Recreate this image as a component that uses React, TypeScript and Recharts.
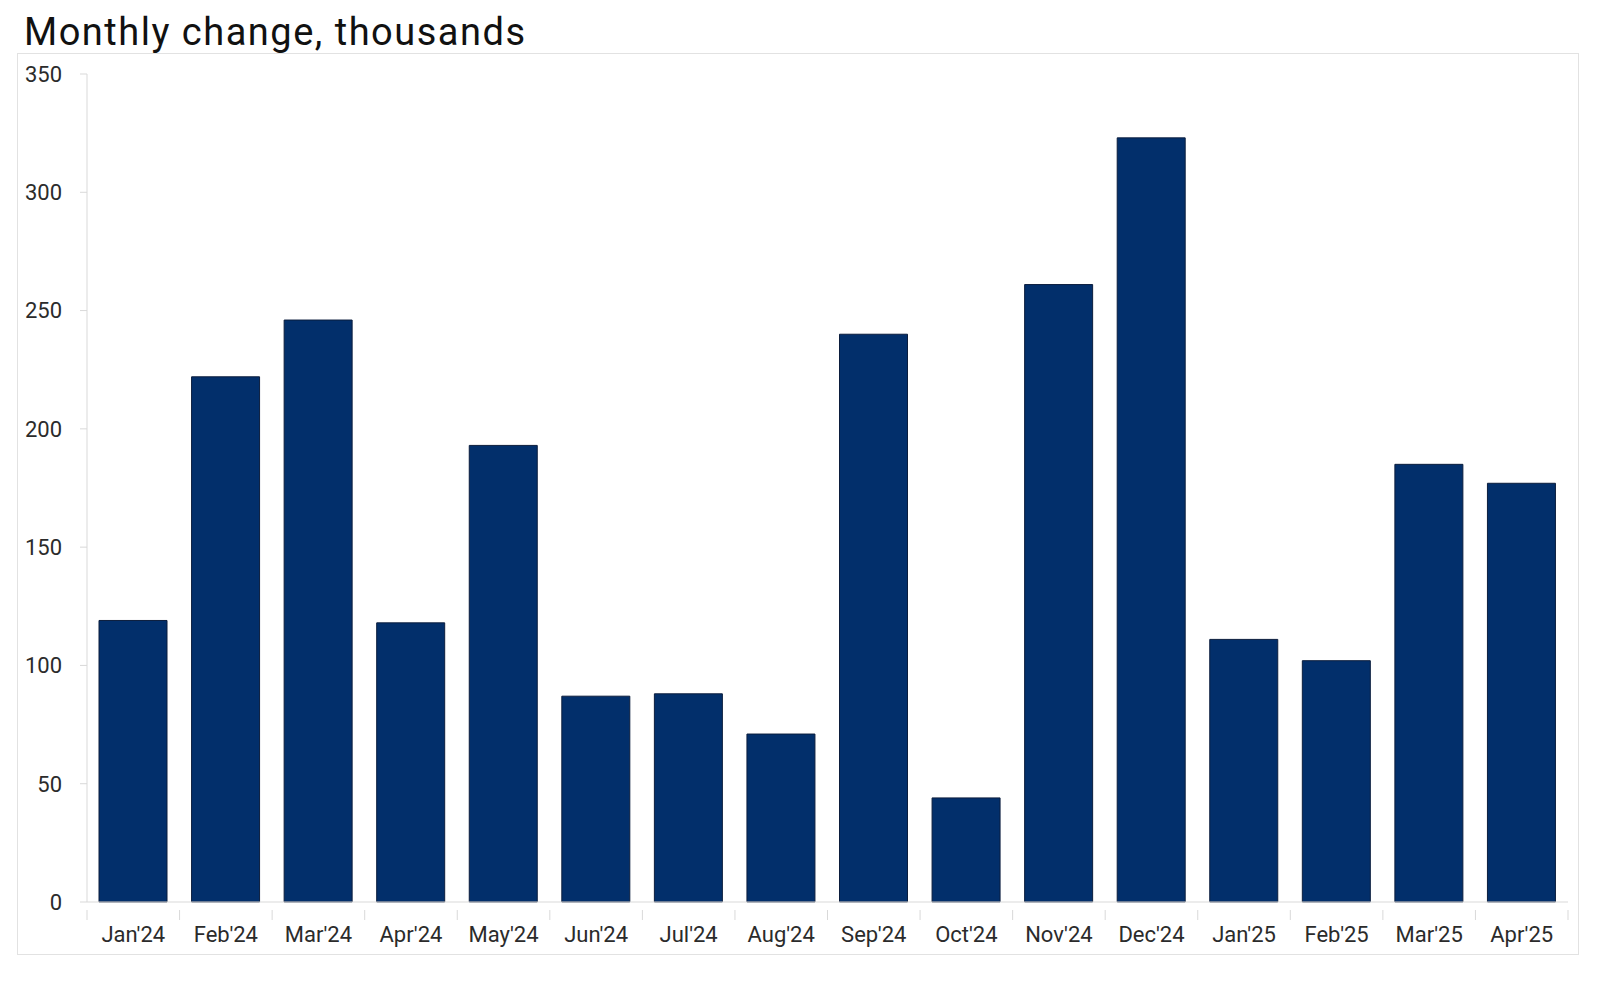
import React from "react";
import { Bar, BarChart, XAxis, YAxis } from "recharts";

const months = [
  "Jan'24", "Feb'24", "Mar'24", "Apr'24", "May'24", "Jun'24", "Jul'24", "Aug'24",
  "Sep'24", "Oct'24", "Nov'24", "Dec'24", "Jan'25", "Feb'25", "Mar'25", "Apr'25",
];
const changes = [119, 222, 246, 118, 193, 87, 88, 71, 240, 44, 261, 323, 111, 102, 185, 177];
const yTicks = [0, 50, 100, 150, 200, 250, 300, 350];

const data = months.map((month, i) => ({ month, value: changes[i] }));

const FONT = "Roboto, 'Open Sans', sans-serif";
const AXIS_GRAY = "#d9d9d9";
const TEXT = "#2b2b2b";

const XTick = (props: any) => {
  const { x, y, payload, index } = props;
  const half = payload?.offset ?? 46.3;
  return (
    <g>
      <line x1={x - half} x2={x - half} y1={y} y2={y + 10} stroke={AXIS_GRAY} />
      {index === months.length - 1 && (
        <line x1={x + half} x2={x + half} y1={y} y2={y + 10} stroke={AXIS_GRAY} />
      )}
      <text x={x} y={y + 32} textAnchor="middle" fill={TEXT} fontSize={22} fontFamily={FONT}>
        {payload.value}
      </text>
    </g>
  );
};

export default function App() {
  return (
    <div style={{ position: "absolute", top: 0, left: 0, width: 1600, height: 989, background: "#fff" }}>
      <svg width={1600} height={989} style={{ position: "absolute", top: 0, left: 0 }}>
        <rect x={17.5} y={53.5} width={1561} height={901} fill="none" stroke="#e2e2e2" />
        <text x={24} y={45} fontSize={38} letterSpacing={1.5} fontFamily={FONT} fill="#111">
          Monthly change, thousands
        </text>
      </svg>
      <div style={{ position: "absolute", top: 0, left: 0 }}>
        <BarChart
          width={1600}
          height={989}
          data={data}
          margin={{ top: 74, right: 32, left: 0, bottom: 0 }}
        >
          <XAxis
            dataKey="month"
            interval={0}
            tickLine={false}
            axisLine={{ stroke: AXIS_GRAY }}
            tick={<XTick />}
            height={87}
          />
          <YAxis
            domain={[0, 350]}
            ticks={yTicks}
            width={87}
            tickSize={7}
            tickMargin={18}
            tickLine={{ stroke: AXIS_GRAY }}
            axisLine={{ stroke: AXIS_GRAY }}
            tick={{ fill: TEXT, fontSize: 22, fontFamily: FONT }}
          />
          <Bar
            dataKey="value"
            fill="#022f6b"
            stroke="#0b1d3d"
            strokeWidth={1}
            barSize={68}
            isAnimationActive={false}
          />
        </BarChart>
      </div>
    </div>
  );
}
